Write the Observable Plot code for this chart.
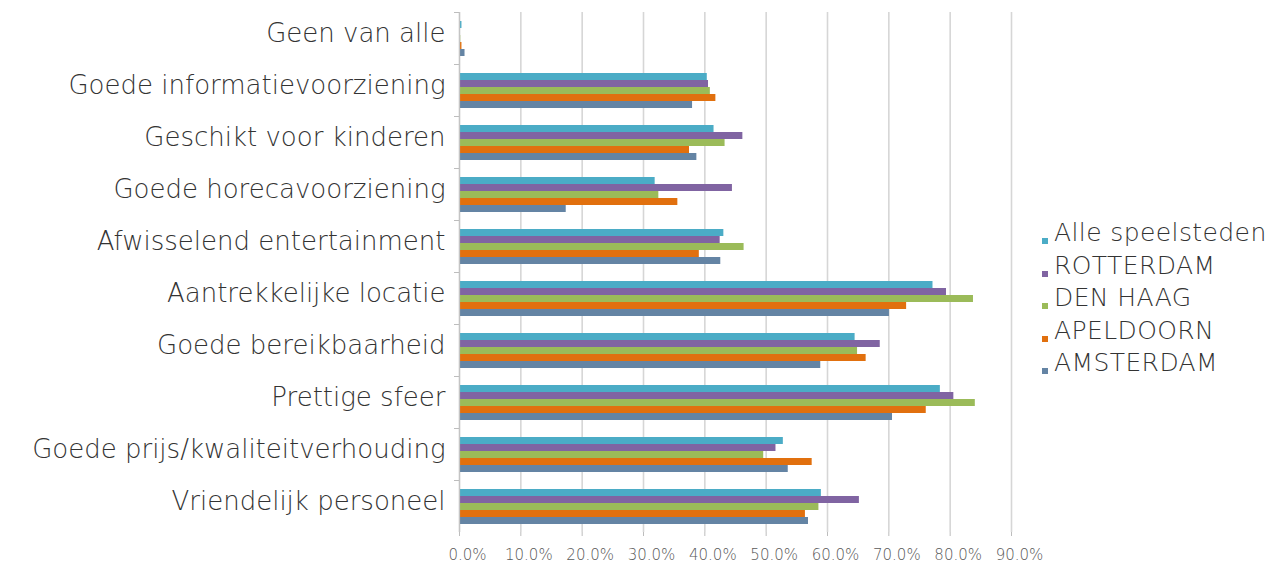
<!DOCTYPE html>
<html>
<head>
<meta charset="utf-8">
<script src="https://cdn.jsdelivr.net/npm/d3@7"></script>
<script src="https://cdn.jsdelivr.net/npm/@observablehq/plot@0.6"></script>
<style>
  html, body { margin: 0; padding: 0; background: #fff; }
  #wrap { position: relative; width: 1271px; height: 565px; font-family: "DejaVu Sans", sans-serif; }
  #chart { position: absolute; left: 0; top: 0; }
  #legend { position: absolute; left: 1042px; top: 217px; font-family: "DejaVu Sans", sans-serif; font-weight: 200; font-size: 25px; letter-spacing: 0.4px; color: #333; }
  .row { height: 32.6px; line-height: 32.6px; white-space: nowrap; position: relative; padding-left: 12px; }
  .sw { position: absolute; left: 0; top: 21px; width: 6px; height: 6px; }
</style>
</head>
<body>
<div id="wrap"><div id="chart"></div><div id="legend"></div></div>
<script>
const categories = [
  "Geen van alle",
  "Goede informatievoorziening",
  "Geschikt voor kinderen",
  "Goede horecavoorziening",
  "Afwisselend entertainment",
  "Aantrekkelijke locatie",
  "Goede bereikbaarheid",
  "Prettige sfeer",
  "Goede prijs/kwaliteitverhouding",
  "Vriendelijk personeel"
];
const series = ["Alle speelsteden", "ROTTERDAM", "DEN HAAG", "APELDOORN", "AMSTERDAM"];
const colors = ["#4bacc6", "#8064a2", "#9bbb59", "#e1700e", "#6484a4"];

const alleSpeelsteden = [0.4, 40.4, 41.5, 31.9, 43.1, 77.2, 64.5, 78.4, 52.8, 59.0];
const rotterdam       = [0.0, 40.6, 46.2, 44.5, 42.5, 79.4, 68.6, 80.6, 51.6, 65.2];
const denHaag         = [0.2, 40.9, 43.3, 32.5, 46.4, 83.8, 64.9, 84.1, 49.6, 58.6];
const apeldoorn       = [0.4, 41.8, 37.5, 35.6, 39.1, 72.9, 66.3, 76.1, 57.5, 56.4];
const amsterdam       = [0.9, 38.0, 38.7, 17.4, 42.6, 70.1, 58.9, 70.6, 53.6, 56.9];
const xTicks = [0, 10, 20, 30, 40, 50, 60, 70, 80, 90];

const seriesValues = [alleSpeelsteden, rotterdam, denHaag, apeldoorn, amsterdam];
const data = categories.flatMap((c, i) =>
  series.map((s, j) => ({category: c, series: s, value: seriesValues[j][i]}))
);

const chart = Plot.plot({
  width: 1070,
  height: 565,
  marginLeft: 459,
  marginRight: 59,
  marginTop: 11,
  marginBottom: 33,
  style: {fontFamily: "'DejaVu Sans', sans-serif", background: "transparent"},
  x: {domain: [0, 90], axis: null},
  fy: {domain: categories, padding: 0, axis: null},
  y: {domain: series, paddingInner: 0, paddingOuter: 0.78, axis: null},
  color: {domain: series, range: colors},
  marks: [
    Plot.gridX(xTicks, {stroke: "#d6d6d6", strokeOpacity: 1, strokeWidth: 1.6}),
    Plot.barX(data, {x: "value", y: "series", fy: "category", fill: "series"}),
    Plot.ruleX([0], {stroke: "#c4c4c4", strokeWidth: 1.2}),
    Plot.axisX(xTicks, {anchor: "bottom", tickSize: 4, text: null, stroke: "#bdbdbd", label: null}),
    Plot.axisX(xTicks, {anchor: "bottom", tickSize: 0, tickPadding: 17, label: null,
      tickFormat: d => d.toFixed(1) + "%", fontSize: 15, fill: "#595959", fontWeight: 200, dx: 8}),
    Plot.axisFy({anchor: "left", tickSize: 0, tickPadding: 14, fontSize: 26, fill: "#333",
      fontWeight: 200, dy: -5, label: null, style: {letterSpacing: "0.45px"}}),
    Plot.axisFy({anchor: "left", tickSize: 5, text: null, stroke: "#bdbdbd", dy: -26, label: null})
  ]
});
document.getElementById("chart").appendChild(chart);

const legend = document.getElementById("legend");
series.forEach((s, j) => {
  const row = document.createElement("div");
  row.className = "row";
  const sw = document.createElement("span");
  sw.className = "sw";
  sw.style.background = colors[j];
  row.appendChild(sw);
  row.appendChild(document.createTextNode(s));
  legend.appendChild(row);
});
</script>
</body>
</html>
